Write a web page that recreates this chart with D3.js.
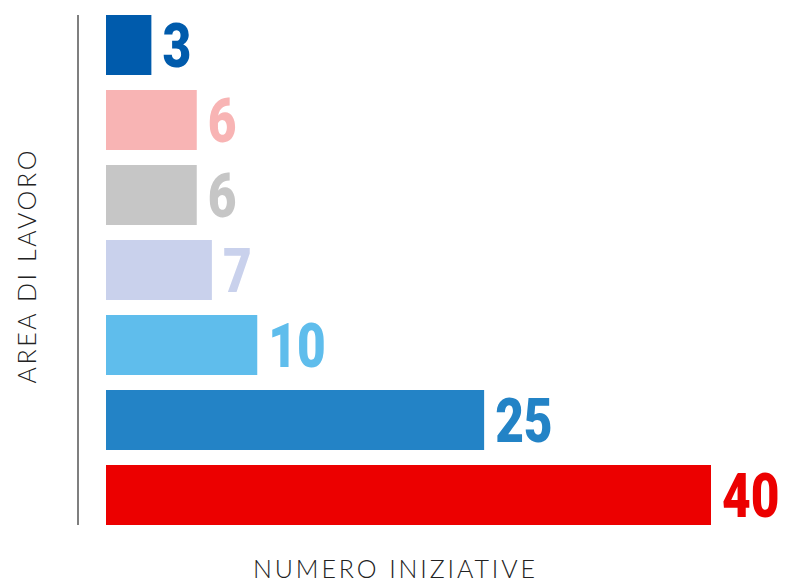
<!DOCTYPE html>
<html><head><meta charset="utf-8">
<script src="https://cdn.jsdelivr.net/npm/d3@7"></script>
<style>body{margin:0;background:#fff}</style>
</head><body>
<svg id="c" width="787" height="582"></svg>
<script>
const categories = ["A","B","C","D","E","F","G"];
const values = [3, 6, 6, 7, 10, 25, 40];
const colors = ["#005BAC", "#F8B4B4", "#C6C6C6", "#C9D1EC", "#5FBDEC", "#2383C6", "#EC0000"];
const xLabel = "NUMERO INIZIATIVE";
const yLabel = "AREA DI LAVORO";

const svg = d3.select("#c");
const x = d3.scaleLinear().domain([0, 40]).range([106, 711]);
const y = d3.scaleBand().domain(categories).range([15, 525]).paddingInner(0.2).paddingOuter(0);

svg.append("line").attr("x1", 78).attr("x2", 78).attr("y1", 15).attr("y2", 525)
  .attr("stroke", "#555").attr("stroke-width", 1.5);

const g = svg.append("g");
g.selectAll("rect").data(values).join("rect")
  .attr("x", x(0)).attr("y", (d,i) => y(categories[i]))
  .attr("width", d => x(d) - x(0)).attr("height", y.bandwidth())
  .attr("fill", (d,i) => colors[i]);

const sx = 0.8;
g.selectAll("text.v").data(values).join("text").attr("class","v")
  .attr("transform", (d,i) => `translate(${x(d) + 11},${y(categories[i]) + y.bandwidth()/2 + 22}) scale(${sx},1)`)
  .attr("fill", (d,i) => colors[i])
  .style("font-family", "Roboto, 'Liberation Sans', sans-serif")
  .style("font-weight", 900).style("font-size", "62px")
  .text(d => d);

svg.append("text").attr("x", 394).attr("y", 578).attr("text-anchor","middle")
  .style("font-family","Lato, sans-serif").style("font-weight", 300).style("font-size","25px")
  .attr("fill","#222").attr("textLength", 282).attr("lengthAdjust","spacing").text(xLabel);

svg.append("text").attr("transform","translate(36,267) rotate(-90)").attr("text-anchor","middle")
  .style("font-family","Lato, sans-serif").style("font-weight", 300).style("font-size","25px")
  .attr("fill","#222").attr("textLength", 233).attr("lengthAdjust","spacing").text(yLabel);
</script>
</body></html>
